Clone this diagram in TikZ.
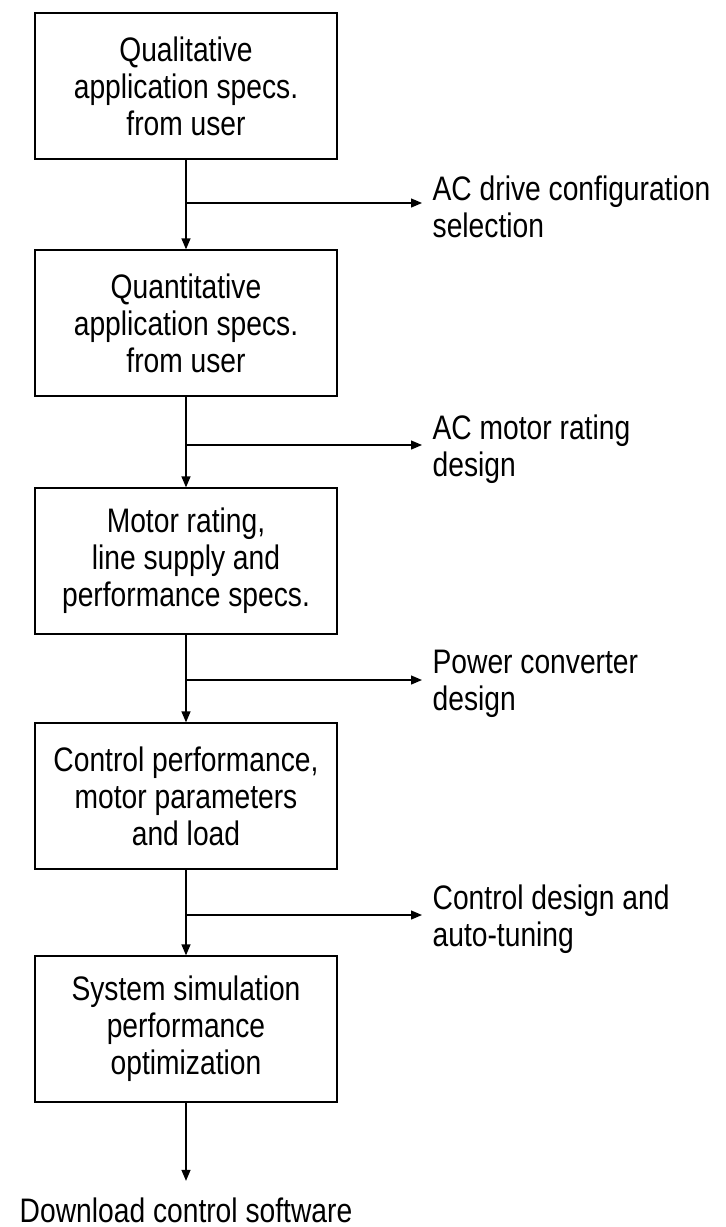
\documentclass[tikz,border=0pt]{standalone}
\usepackage{fontspec}
\setmainfont{Liberation Sans}[FakeStretch=0.83]
\usetikzlibrary{positioning,arrows.meta}

\begin{document}
\begin{tikzpicture}[
  x=1pt, y=-1pt,
  >={Triangle[length=11pt,width=9pt]},
  font=\fontsize{34}{37}\selectfont,
  line width=1.3pt,
  stage/.style={draw, align=center, minimum width=302pt, minimum height=146pt, inner sep=4pt},
  outcome/.style={align=left, inner sep=2pt},
  arr/.style={->}
]
\useasboundingbox (0,0) rectangle (726,1227);

\node[stage] (qual) at (186,86) {Qualitative\\application specs.\\from user};
\node[stage] (quant) at (186,323) {Quantitative\\application specs.\\from user};
\node[stage] (rating) at (186,561) {Motor rating,\\line supply and\\performance specs.};
\node[stage] (ctrlperf) at (186,796) {Control performance,\\motor parameters\\and load};
\node[stage] (simopt) at (186,1029) {System simulation\\performance\\optimization};
\node[inner ysep=16pt] (download) at (186,1210) {Download control software};

\coordinate (j1) at (186,203);
\coordinate (t1) at (422,203);
\coordinate (j2) at (186,445);
\coordinate (t2) at (422,445);
\coordinate (j3) at (186,680);
\coordinate (t3) at (422,680);
\coordinate (j4) at (186,915);
\coordinate (t4) at (422,915);

\node[outcome, right=8pt of t1, yshift=-4pt] (drive) {AC drive configuration\\selection};
\node[outcome, right=8pt of t2, yshift=-4pt] (motor) {AC motor rating\\design};
\node[outcome, right=8pt of t3, yshift=-4pt] (conv) {Power converter\\design};
\node[outcome, right=8pt of t4, yshift=-4pt] (tune) {Control design and\\auto-tuning};

\draw[arr] (qual) -- (quant);
\draw[arr] (quant) -- (rating);
\draw[arr] (rating) -- (ctrlperf);
\draw[arr] (ctrlperf) -- (simopt);
\draw[arr] (simopt) -- (download);
\draw[arr] (j1) -- (t1);
\draw[arr] (j2) -- (t2);
\draw[arr] (j3) -- (t3);
\draw[arr] (j4) -- (t4);
\end{tikzpicture}
\end{document}
